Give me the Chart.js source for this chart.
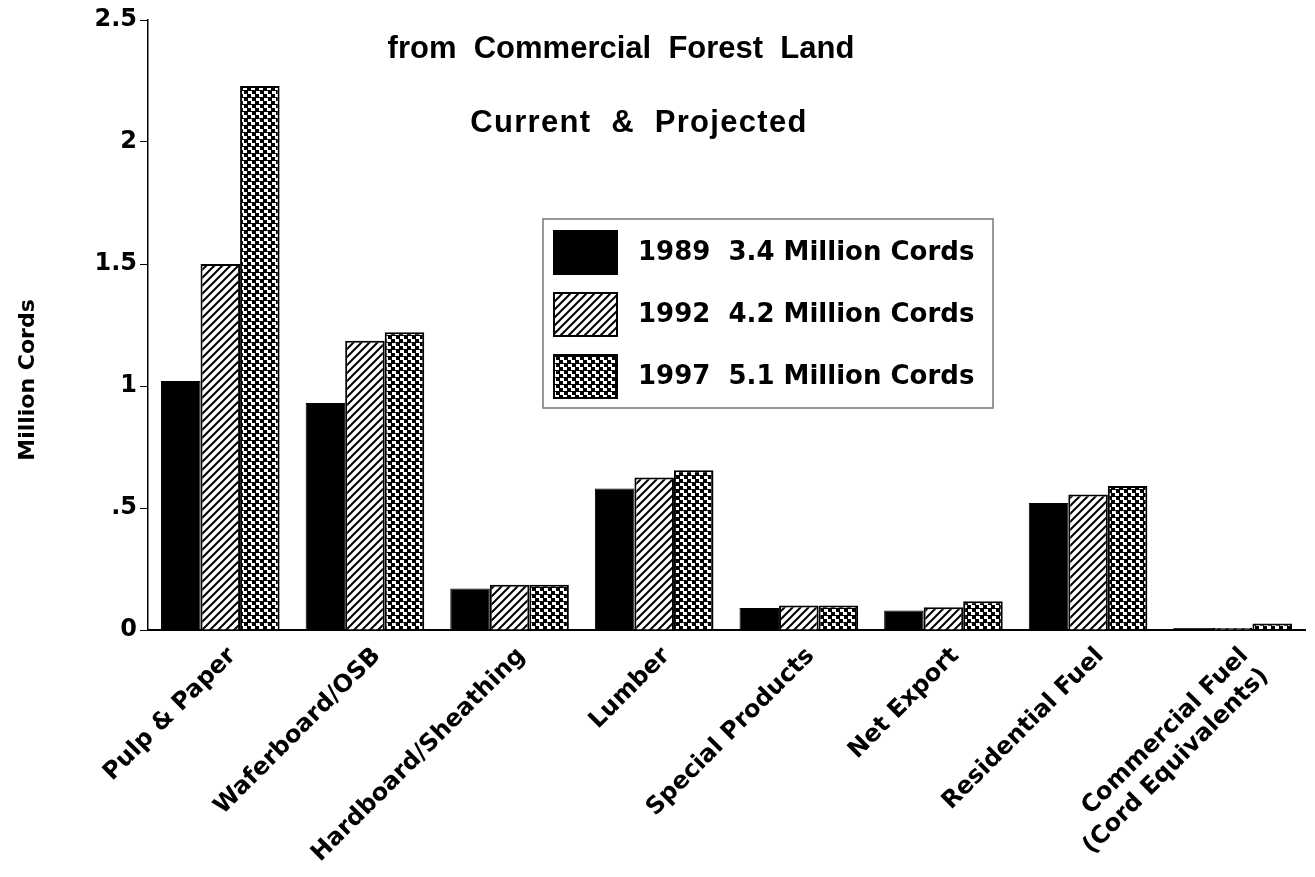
<!DOCTYPE html>
<html lang="en">
<head>
  <meta charset="UTF-8">
  <title>Commercial Forest Land</title>
  <script src="https://cdn.jsdelivr.net/npm/chart.js"></script>
  <style>
    body { margin: 0; background: #fff; }
    #grafico { display: block; }
  </style>
</head>
<body>
  <canvas id="grafico" width="1315" height="877"></canvas>

<script>
  // Dados (milhões de cordas)
  var categorias = ["Pulp & Paper", "Waferboard/OSB", "Hardboard/Sheathing", "Lumber",
    "Special Products", "Net Export", "Residential Fuel", ["Commercial Fuel", "(Cord Equivalents)"]];
  var anos = ["1989  3.4 Million Cords", "1992  4.2 Million Cords", "1997  5.1 Million Cords"];
  var valores1989 = [1.02, 0.93, 0.17, 0.58, 0.09, 0.08, 0.52, 0.008];
  var valores1992 = [1.50, 1.185, 0.185, 0.625, 0.10, 0.093, 0.555, 0.008];
  var valores1997 = [2.23, 1.22, 0.185, 0.655, 0.10, 0.118, 0.59, 0.027];
  var titulos = ["from  Commercial  Forest  Land", "Current  &  Projected"];
  var tituloEixoY = "Million Cords";

  var fonteRotulo = "'DejaVu Sans', sans-serif";

  // padrão de hachura diagonal (1992)
  function criarHachura() {
    var c = document.createElement("canvas");
    c.width = 8; c.height = 8;
    var ctx = c.getContext("2d");
    ctx.fillStyle = "#fff";
    ctx.fillRect(0, 0, 8, 8);
    ctx.strokeStyle = "#000";
    ctx.lineWidth = 2;
    ctx.beginPath();
    ctx.moveTo(-1, 9); ctx.lineTo(9, -1);
    ctx.moveTo(-1, 1); ctx.lineTo(1, -1);
    ctx.moveTo(7, 9); ctx.lineTo(9, 7);
    ctx.stroke();
    return ctx.createPattern(c, "repeat");
  }

  // padrão de "tijolinhos" em degrau (1997)
  function criarTijolo() {
    var c = document.createElement("canvas");
    c.width = 8; c.height = 7;
    var ctx = c.getContext("2d");
    ctx.fillStyle = "#000";
    ctx.fillRect(0, 0, 8, 7);
    ctx.fillStyle = "#fff";
    ctx.fillRect(0, 0, 4, 3);
    ctx.fillRect(3, 3, 4, 3);
    return ctx.createPattern(c, "repeat");
  }

  var preenchimentos = ["#000", criarHachura(), criarTijolo()];

  // títulos, legenda e rótulo do eixo y desenhados dentro da área
  var pluginTextos = {
    id: "textos",
    afterDraw: function (chart) {
      var ctx = chart.ctx;
      ctx.save();
      ctx.fillStyle = "#000";
      ctx.textAlign = "center";
      ctx.textBaseline = "middle";
      ctx.font = "bold 31px 'Liberation Sans', Arial, sans-serif";
      ctx.fillText(titulos[0], 621, 49);
      ctx.letterSpacing = "1.3px";
      ctx.fillText(titulos[1], 639, 123);
      ctx.letterSpacing = "0px";

      // rótulo do eixo y
      ctx.save();
      ctx.translate(28, 380);
      ctx.rotate(-Math.PI / 2);
      ctx.font = "bold 22px " + fonteRotulo;
      ctx.fillText(tituloEixoY, 0, 0);
      ctx.restore();

      // legenda
      ctx.strokeStyle = "#777";
      ctx.lineWidth = 1.5;
      ctx.fillStyle = "#fff";
      ctx.fillRect(543, 219, 450, 189);
      ctx.strokeRect(543, 219, 450, 189);
      ctx.textAlign = "left";
      ctx.font = "bold 26px " + fonteRotulo;
      for (var i = 0; i < chart.data.datasets.length; i++) {
        var ds = chart.data.datasets[i];
        var y = 231 + i * 62;
        ctx.fillStyle = ds.backgroundColor;
        ctx.fillRect(554, y, 63, 43);
        ctx.strokeStyle = "#000";
        ctx.lineWidth = 2;
        ctx.strokeRect(554, y, 63, 43);
        ctx.fillStyle = "#000";
        ctx.fillText(ds.label, 638, y + 22);
      }
      ctx.restore();
    }
  };

  var grafico = new Chart(document.getElementById("grafico"), {
    type: "bar",
    data: {
      labels: categorias,
      datasets: [
        { label: anos[0], data: valores1989, backgroundColor: preenchimentos[0], borderColor: "#000", borderWidth: 1 },
        { label: anos[1], data: valores1992, backgroundColor: preenchimentos[1], borderColor: "#000", borderWidth: 2 },
        { label: anos[2], data: valores1997, backgroundColor: preenchimentos[2], borderColor: "#000", borderWidth: 2 }
      ]
    },
    options: {
      responsive: false,
      animation: false,
      devicePixelRatio: 1,
      layout: { padding: { top: 20, right: 10, left: 0, bottom: 0 } },
      datasets: { bar: { categoryPercentage: 0.82, barPercentage: 1.0 } },
      plugins: {
        legend: { display: false },
        title: { display: false },
        tooltip: { enabled: false }
      },
      scales: {
        x: {
          grid: { display: false },
          border: { display: true, color: "#000", width: 2 },
          ticks: {
            color: "#000",
            minRotation: 45,
            maxRotation: 45,
            autoSkip: false,
            padding: 4,
            labelOffset: 12,
            font: { family: fonteRotulo, weight: "bold", size: 24 }
          },
          afterFit: function (escala) { escala.height = 247; }
        },
        y: {
          min: 0,
          max: 2.5,
          grid: { drawOnChartArea: false, drawTicks: true, tickLength: 8, color: "#000", lineWidth: 1 },
          border: { display: true, color: "#000", width: 1.5 },
          ticks: {
            stepSize: 0.5,
            color: "#000",
            padding: 3,
            font: { family: fonteRotulo, weight: "bold", size: 24 },
            callback: function (valor) { return valor === 0.5 ? ".5" : String(valor); }
          },
          afterFit: function (escala) { escala.width = 148; }
        }
      }
    },
    plugins: [pluginTextos]
  });
</script>
</body>
</html>
